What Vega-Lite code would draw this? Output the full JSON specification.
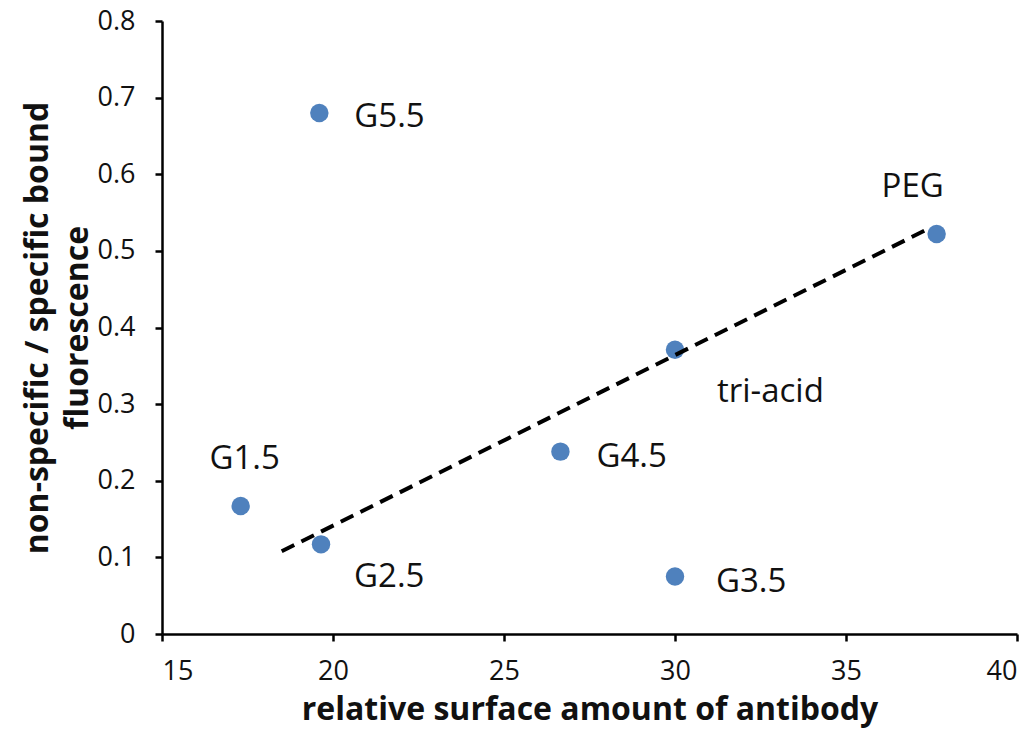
{
  "$schema": "https://vega.github.io/schema/vega-lite/v6.json",
  "autosize": {"type": "none"},
  "padding": {"left": 162, "top": 21, "right": 17, "bottom": 100},
  "width": 855,
  "height": 613,
  "background": "white",
  "config": {
    "view": {"stroke": null},
    "font": "Open Sans",
    "axis": {
      "grid": false,
      "domainColor": "black",
      "domainWidth": 2.5,
      "tickColor": "black",
      "tickWidth": 2.5,
      "tickSize": 7,
      "labelFont": "Open Sans",
      "labelFontSize": 27,
      "labelColor": "#111",
      "titleFont": "Open Sans",
      "titleFontWeight": "bold",
      "titleFontSize": 32,
      "titleColor": "#111"
    }
  },
  "datasets": {
    "pts": [
      {"sample": "G5.5", "amount": 19.6, "ratio": 0.680},
      {"sample": "PEG", "amount": 37.65, "ratio": 0.522},
      {"sample": "tri-acid", "amount": 30.0, "ratio": 0.371},
      {"sample": "G4.5", "amount": 26.65, "ratio": 0.238},
      {"sample": "G1.5", "amount": 17.3, "ratio": 0.167},
      {"sample": "G2.5", "amount": 19.65, "ratio": 0.117},
      {"sample": "G3.5", "amount": 30.0, "ratio": 0.075}
    ],
    "fit": [
      {"amount": 18.5, "ratio": 0.108},
      {"amount": 37.46, "ratio": 0.530}
    ]
  },
  "encoding": {
    "x": {
      "field": "amount", "type": "quantitative",
      "scale": {"domain": [15, 40], "nice": false, "zero": false},
      "axis": {"values": [15, 20, 25, 30, 35, 40], "labelFontSize": 27, "labelPadding": 17, "title": "relative surface amount of antibody", "titleFontSize": 32, "titlePadding": 10}
    },
    "y": {
      "field": "ratio", "type": "quantitative",
      "scale": {"domain": [0, 0.8], "nice": false},
      "axis": {"values": [0, 0.1, 0.2, 0.3, 0.4, 0.5, 0.6, 0.7, 0.8], "format": "~g", "labelFontSize": 27, "labelPadding": 20, "title": ["non-specific / specific bound", "fluorescence"], "titleFontSize": 32, "titlePadding": 3, "titleLineHeight": 40}
    }
  },
  "layer": [
    {
      "data": {"name": "pts"},
      "mark": {"type": "circle", "size": 340, "color": "#4F81BD", "opacity": 1}
    },
    {
      "data": {"name": "fit"},
      "mark": {"type": "line", "color": "black", "strokeWidth": 4, "strokeDash": [14, 8]}
    },
    {
      "data": {"name": "pts"},
      "transform": [{"filter": "datum.sample === 'G5.5'"}],
      "mark": {"type": "text", "align": "left", "baseline": "alphabetic", "dx": 35, "dy": 14, "fontSize": 33, "color": "#111"},
      "encoding": {"text": {"field": "sample"}}
    },
    {
      "data": {"name": "pts"},
      "transform": [{"filter": "datum.sample === 'PEG'"}],
      "mark": {"type": "text", "align": "center", "baseline": "alphabetic", "dx": -24, "dy": -37, "fontSize": 33, "color": "#111"},
      "encoding": {"text": {"field": "sample"}}
    },
    {
      "data": {"name": "pts"},
      "transform": [{"filter": "datum.sample === 'tri-acid'"}],
      "mark": {"type": "text", "align": "left", "baseline": "alphabetic", "dx": 42, "dy": 52, "fontSize": 33, "color": "#111"},
      "encoding": {"text": {"field": "sample"}}
    },
    {
      "data": {"name": "pts"},
      "transform": [{"filter": "datum.sample === 'G4.5'"}],
      "mark": {"type": "text", "align": "left", "baseline": "alphabetic", "dx": 36, "dy": 15, "fontSize": 33, "color": "#111"},
      "encoding": {"text": {"field": "sample"}}
    },
    {
      "data": {"name": "pts"},
      "transform": [{"filter": "datum.sample === 'G1.5'"}],
      "mark": {"type": "text", "align": "center", "baseline": "alphabetic", "dx": 4, "dy": -37, "fontSize": 33, "color": "#111"},
      "encoding": {"text": {"field": "sample"}}
    },
    {
      "data": {"name": "pts"},
      "transform": [{"filter": "datum.sample === 'G2.5'"}],
      "mark": {"type": "text", "align": "left", "baseline": "alphabetic", "dx": 33, "dy": 43, "fontSize": 33, "color": "#111"},
      "encoding": {"text": {"field": "sample"}}
    },
    {
      "data": {"name": "pts"},
      "transform": [{"filter": "datum.sample === 'G3.5'"}],
      "mark": {"type": "text", "align": "left", "baseline": "alphabetic", "dx": 41, "dy": 15, "fontSize": 33, "color": "#111"},
      "encoding": {"text": {"field": "sample"}}
    }
  ]
}
